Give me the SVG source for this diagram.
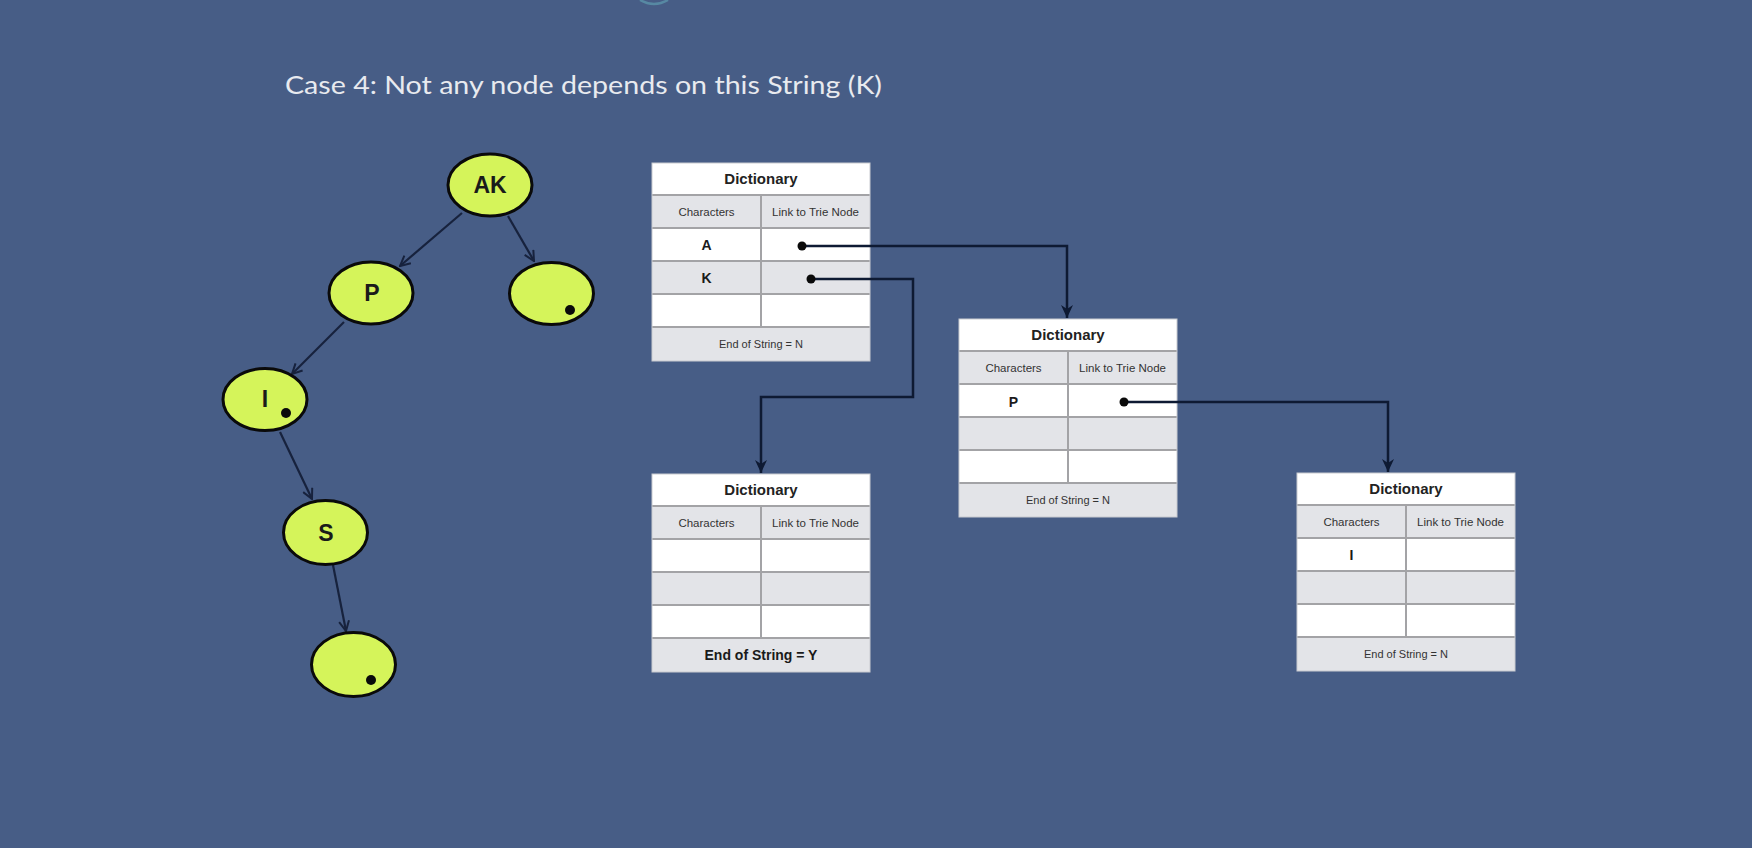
<svg xmlns="http://www.w3.org/2000/svg" width="1752" height="848" viewBox="0 0 1752 848">
<defs>
<style>
.bg{fill:#475d86}
.title{font-family:Lato,"Liberation Sans",sans-serif;font-size:25px;fill:#e8eaef}
.node ellipse{fill:#d5f45a;stroke:#0a0a0a;stroke-width:3}
.node text{font-family:"Liberation Sans",Arial,sans-serif;font-size:23px;font-weight:bold;fill:#1a1a1a;text-anchor:middle}
.nd{fill:#0a0a0a}
.tedge{fill:none;stroke:#17223d;stroke-width:2.2}
.white{fill:#ffffff}
.gray{fill:#e3e4e8}
.grid{stroke:#a3a3a6;stroke-width:2;fill:none}
.frame{fill:none;stroke:#c9cbd0;stroke-width:1}
.th{font-family:"Liberation Sans",Arial,sans-serif;font-size:15px;font-weight:bold;fill:#222;text-anchor:middle}
.hd{font-family:"Liberation Sans",Arial,sans-serif;font-size:11.5px;fill:#333;text-anchor:middle}
.ch{font-family:"Liberation Sans",Arial,sans-serif;font-size:14px;font-weight:bold;fill:#1a1a1a;text-anchor:middle}
.ft{font-family:"Liberation Sans",Arial,sans-serif;font-size:11px;fill:#333;text-anchor:middle}
.ftb{font-family:"Liberation Sans",Arial,sans-serif;font-size:14px;font-weight:bold;fill:#1a1a1a;text-anchor:middle}
.conn{fill:none;stroke:#0e1a33;stroke-width:2.5}
.dot{fill:#0a0a0a}
</style>
<marker id="vhead" viewBox="0 0 12 12" refX="11" refY="6" markerWidth="12" markerHeight="12" markerUnits="userSpaceOnUse" orient="auto">
<path d="M1,1 L11,6 L1,11" fill="none" stroke="#17223d" stroke-width="2"/>
</marker>
<marker id="ahead" viewBox="0 0 14 12" refX="13" refY="6" markerWidth="14" markerHeight="12" markerUnits="userSpaceOnUse" orient="auto">
<path d="M0,0 L13,6 L0,12 L4,6 z" fill="#0e1a33"/>
</marker>
<g id="table">
<rect class="white" x="0" y="0" width="218" height="32"/>
<rect class="gray" x="0" y="32" width="218" height="33"/>
<rect class="white" x="0" y="65" width="218" height="33"/>
<rect class="gray" x="0" y="98" width="218" height="33"/>
<rect class="white" x="0" y="131" width="218" height="33"/>
<rect class="gray" x="0" y="164" width="218" height="34"/>
<path class="grid" d="M0,32 H218 M0,65 H218 M0,98 H218 M0,131 H218 M0,164 H218 M109,32 V164"/>
<rect class="frame" x="0" y="0" width="218" height="198"/>
<text class="th" x="109" y="21">Dictionary</text>
<text class="hd" x="54.5" y="52.5">Characters</text>
<text class="hd" x="163.5" y="52.5">Link to Trie Node</text>
</g>
</defs>
<rect class="bg" x="0" y="0" width="1752" height="848"/>
<path d="M640,0 Q654,8 668,0" fill="none" stroke="#63a7b8" stroke-width="2.5" opacity="0.6"/>
<text class="title" x="285" y="94" textLength="597" lengthAdjust="spacingAndGlyphs">Case 4: Not any node depends on this String (K)</text>

<g id="tree-edges">
<line class="tedge" x1="462" y1="213" x2="400" y2="266" marker-end="url(#vhead)"/>
<line class="tedge" x1="508" y1="216" x2="534" y2="261" marker-end="url(#vhead)"/>
<line class="tedge" x1="344" y1="322" x2="292" y2="374" marker-end="url(#vhead)"/>
<line class="tedge" x1="280" y1="432" x2="312" y2="499" marker-end="url(#vhead)"/>
<line class="tedge" x1="333" y1="565" x2="346" y2="631" marker-end="url(#vhead)"/>
</g>

<g id="node-AK" class="node"><ellipse cx="490" cy="185" rx="42" ry="31"/><text x="490" y="193">AK</text></g>
<g id="node-P" class="node"><ellipse cx="371" cy="293" rx="42" ry="31"/><text x="372" y="301">P</text></g>
<g id="node-K-end" class="node"><ellipse cx="551.5" cy="293.5" rx="42" ry="31"/><circle class="nd" cx="570" cy="310" r="5"/></g>
<g id="node-I" class="node"><ellipse cx="265" cy="399.5" rx="42" ry="31"/><text x="265" y="407">I</text><circle class="nd" cx="286" cy="413" r="5"/></g>
<g id="node-S" class="node"><ellipse cx="325.5" cy="532.5" rx="42" ry="32"/><text x="326" y="541">S</text></g>
<g id="node-end" class="node"><ellipse cx="353.5" cy="664.5" rx="42" ry="32"/><circle class="nd" cx="371" cy="680" r="5"/></g>

<g id="dict-root" transform="translate(652,163)">
<use href="#table"/>
<text class="ch" x="54.5" y="87">A</text>
<text class="ch" x="54.5" y="120">K</text>
<text class="ft" x="109" y="185">End of String = N</text>
</g>
<g id="dict-A" transform="translate(959,319)">
<use href="#table"/>
<text class="ch" x="54.5" y="88">P</text>
<text class="ft" x="109" y="185">End of String = N</text>
</g>
<g id="dict-K" transform="translate(652,474)">
<use href="#table"/>
<text class="ftb" x="109" y="186">End of String = Y</text>
</g>
<g id="dict-P" transform="translate(1297,473)">
<use href="#table"/>
<text class="ch" x="54.5" y="87">I</text>
<text class="ft" x="109" y="185">End of String = N</text>
</g>

<g id="connectors">
<path class="conn" d="M802,246 H1067 V318" marker-end="url(#ahead)"/>
<path class="conn" d="M811,279 H913 V397 H761 V473" marker-end="url(#ahead)"/>
<path class="conn" d="M1124,402 H1388 V472" marker-end="url(#ahead)"/>
<circle class="dot" cx="802" cy="246" r="4.5"/>
<circle class="dot" cx="811" cy="279" r="4.5"/>
<circle class="dot" cx="1124" cy="402" r="4.5"/>
</g>
</svg>
